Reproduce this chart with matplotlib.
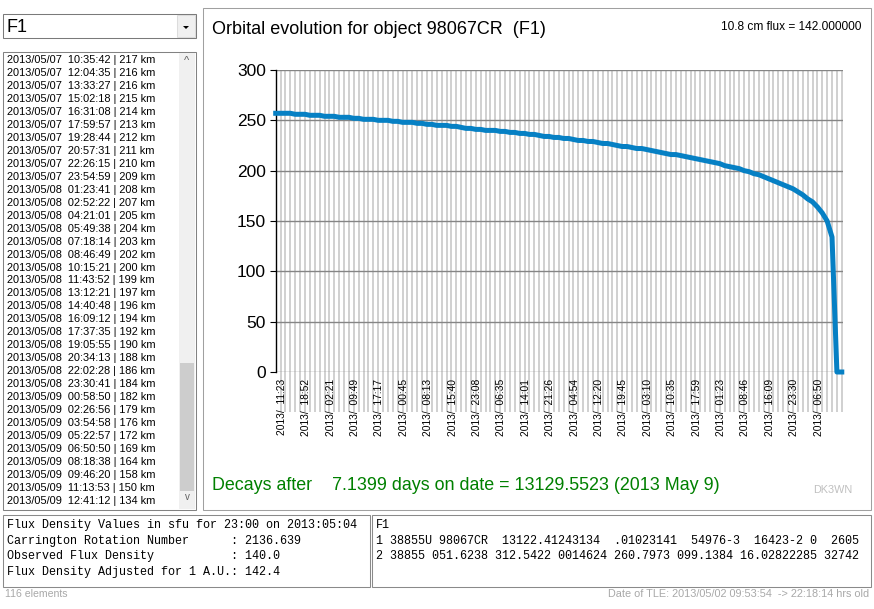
import matplotlib
matplotlib.use('Agg')
import matplotlib.pyplot as plt
import matplotlib.transforms as mtransforms
from matplotlib.patches import Rectangle, Polygon
import numpy as np

# orbit height (km) per element, read off the chart / list box
heights = [257, 257, 257, 257, 256, 256, 256, 255, 255, 255,
           254, 254, 254, 253, 253, 253, 252, 252, 251, 251,
           251, 250, 250, 250, 249, 249, 248, 248, 248, 247,
           247, 246, 246, 245, 245, 245, 244, 244, 243, 242,
           242, 241, 241, 240, 240, 240, 239, 239, 238, 238,
           237, 237, 236, 236, 235, 234, 234, 233, 233, 232,
           232, 231, 230, 230, 229, 229, 228, 227, 227, 226,
           225, 224, 224, 223, 222, 222, 221, 220, 219, 218,
           217, 216, 216, 215, 214, 213, 212, 211, 210, 209,
           208, 207, 205, 204, 203, 202, 200, 199, 197, 196,
           194, 192, 190, 188, 186, 184, 182, 179, 176, 172,
           169, 164, 158, 150, 134, 0, 0]

# every 5th element gets a label
tick_times = ['11:23', '18:52', '02:21', '09:49', '17:17', '00:45', '08:13',
              '15:40', '23:08', '06:35', '14:01', '21:26', '04:54', '12:20',
              '19:45', '03:10', '10:35', '17:59', '01:23', '08:46', '16:09',
              '23:30', '06:50']

# list box rows (elements 80..114)
list_stamps = ['2013/05/07  10:35:42', '2013/05/07  12:04:35', '2013/05/07  13:33:27',
               '2013/05/07  15:02:18', '2013/05/07  16:31:08', '2013/05/07  17:59:57',
               '2013/05/07  19:28:44', '2013/05/07  20:57:31', '2013/05/07  22:26:15',
               '2013/05/07  23:54:59', '2013/05/08  01:23:41', '2013/05/08  02:52:22',
               '2013/05/08  04:21:01', '2013/05/08  05:49:38', '2013/05/08  07:18:14',
               '2013/05/08  08:46:49', '2013/05/08  10:15:21', '2013/05/08  11:43:52',
               '2013/05/08  13:12:21', '2013/05/08  14:40:48', '2013/05/08  16:09:12',
               '2013/05/08  17:37:35', '2013/05/08  19:05:55', '2013/05/08  20:34:13',
               '2013/05/08  22:02:28', '2013/05/08  23:30:41', '2013/05/09  00:58:50',
               '2013/05/09  02:26:56', '2013/05/09  03:54:58', '2013/05/09  05:22:57',
               '2013/05/09  06:50:50', '2013/05/09  08:18:38', '2013/05/09  09:46:20',
               '2013/05/09  11:13:53', '2013/05/09  12:41:12']
list_km = heights[80:115]

flux_lines = ['Flux Density Values in sfu for 23:00 on 2013:05:04',
              'Carrington Rotation Number      : 2136.639',
              'Observed Flux Density           : 140.0',
              'Flux Density Adjusted for 1 A.U.: 142.4']
tle_lines = ['F1',
             '1 38855U 98067CR  13122.41243134  .01023141  54976-3  16423-2 0  2605',
             '2 38855 051.6238 312.5422 0014624 260.7973 099.1384 16.02822285 32742']

W, H = 874, 609
SANS = 'Liberation Sans'
MONO = 'Liberation Mono'

fig = plt.figure(figsize=(W / 100, H / 100), dpi=100, facecolor='white')


def fx(x):
    return x / W


def fy(y):
    return 1 - y / H


def box(x0, y0, x1, y1, ec='#a0a0a0', fc='white', lw=0.75, z=-1):
    fig.patches.append(Rectangle((fx(x0), fy(y1)), fx(x1) - fx(x0), fy(y0) - fy(y1),
                                 transform=fig.transFigure, fc=fc, ec=ec, lw=lw, zorder=z))


def txt(x, y, s, **kw):
    kw.setdefault('family', SANS)
    kw.setdefault('va', 'center')
    fig.text(fx(x), fy(y), s, **kw)


## combo box
box(3, 14, 196, 38, ec='#7a7a7a')
box(177, 15, 195, 37, ec='#dcdcdc', fc='#f0f0f0', z=-0.5)
fig.patches.append(Polygon([(fx(183), fy(26)), (fx(189), fy(26)), (fx(186), fy(29))],
                           closed=True, transform=fig.transFigure, fc='black', ec='none'))
txt(7, 27, 'F1', fontsize=13)

## list box
box(3, 52, 196, 510, ec='#828282')
box(179, 53, 195, 509, ec='none', fc='#f0f0f0', z=-0.5)
box(180, 363, 194, 491, ec='none', fc='#cdcdcd', z=-0.4)
txt(187, 61, '^', fontsize=8, ha='center', color='#606060')
txt(187, 497, 'v', fontsize=7, ha='center', color='#606060')
for r, (stamp, km) in enumerate(zip(list_stamps, list_km)):
    txt(7, 60 + 12.97 * r, f'{stamp} | {km} km', fontsize=7.9)

## chart panel
box(203, 8, 871, 510, ec='#a0a0a0')
txt(212, 29, 'Orbital evolution for object 98067CR  (F1)', fontsize=13)
txt(861, 27, '10.8 cm flux = 142.000000', fontsize=8.6, ha='right')
txt(212, 486, 'Decays after    7.1399 days on date = 13129.5523 (2013 May 9)',
    fontsize=12.9, color='#008000')
txt(852, 490, 'DK3WN', fontsize=7.8, ha='right', color='#c0c0c0')

ax = fig.add_axes([fx(275.7), fy(372), (843 - 275.7) / W, (372 - 70) / H])
ax.set_zorder(2)
ax.set_facecolor('white')
x = np.arange(len(heights))
ax.plot(x, heights, color='#0680c4', lw=3.6, clip_on=False, zorder=4)
ax.set_xlim(0, 116.25)
ax.set_ylim(0, 300)

# grid: light vertical lines (run down into the label area), dark horizontal ones
vt = mtransforms.blended_transform_factory(ax.transData, ax.transAxes)
ax.vlines(x[1:], -0.1325, 1, transform=vt, color='#c8c8c8', lw=1.2, clip_on=False, zorder=1)
ax.hlines(range(0, 301, 50), 0, 116.25, color='#858585', lw=1.0, zorder=2)

for s in ['top', 'right', 'bottom']:
    ax.spines[s].set_visible(False)
ax.spines['left'].set_linewidth(1.0)
ax.spines['left'].set_zorder(3)

ax.set_yticks(range(0, 301, 50))
ax.tick_params(axis='y', length=4, width=0.8, labelsize=12.5, pad=3, labelfontfamily=SANS)
ax.set_xticks(x[::5][:len(tick_times)])
ax.set_xticklabels([f'2013/  {t}' for t in tick_times], rotation=90, fontsize=7.4,
                   family=SANS)
ax.tick_params(axis='x', length=0, pad=5)
offset = mtransforms.ScaledTranslation(0.06, 0, fig.dpi_scale_trans)
for lab in ax.get_xticklabels():
    lab.set_transform(lab.get_transform() + offset)

## bottom panels
box(3, 515, 370, 587, ec='#8a8a8a')
box(372, 515, 871, 587, ec='#8a8a8a')
for i, line in enumerate(flux_lines):
    txt(7, 525 + 15.6 * i, line, family=MONO, fontsize=8.5)
for i, line in enumerate(tle_lines):
    txt(376, 525 + 15.6 * i, line, family=MONO, fontsize=8.45)

## status bar
txt(5, 594, '116 elements', fontsize=7.6, color='#a8a8a8')
txt(869, 594, 'Date of TLE: 2013/05/02 09:53:54  -> 22:18:14 hrs old', fontsize=7.8,
    color='#a8a8a8', ha='right')

fig.savefig('out.png', dpi=100, facecolor='white')
